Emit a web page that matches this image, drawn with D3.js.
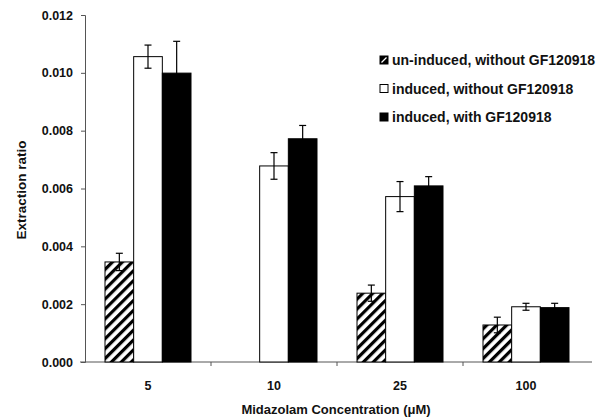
<!DOCTYPE html>
<html>
<head>
<meta charset="utf-8">
<style>
  body { margin: 0; background: white; font-family: "Liberation Sans", Arial, sans-serif; }
  svg { display: block; }
  text { font-weight: bold; fill: #111; }
</style>
<script src="https://cdn.jsdelivr.net/npm/d3@7"></script>
</head>
<body>
<svg id="chart" width="609" height="420"></svg>
<script>

let concentrations = ["5", "10", "25", "100"]
let series = ["un-induced, without GF120918", "induced, without GF120918", "induced, with GF120918"]

// means per concentration, one list per series
let uninducedNo = [0.00346, 0, 0.00238, 0.00128]
let inducedNo = [0.01056, 0.00678, 0.00572, 0.00191]
let inducedWith = [0.00999, 0.00772, 0.00609, 0.00188]

// error bar half-heights (SD)
let uninducedNoErr = [0.0003, 0, 0.00028, 0.00027]
let inducedNoErr = [0.0004, 0.00046, 0.00052, 0.00012]
let inducedWithErr = [0.0011, 0.00046, 0.00032, 0.00015]

let yTicks = [0, 0.002, 0.004, 0.006, 0.008, 0.010, 0.012]

let svg = d3.select("#chart")

let plotLeft = 85, plotRight = 589, plotTop = 15, plotBottom = 362

// hatch pattern for un-induced bars
let defs = svg.append("defs")
defs.append("pattern")
    .attr("id", "hatch")
    .attr("patternUnits", "userSpaceOnUse")
    .attr("width", 7).attr("height", 7)
    .attr("patternTransform", "rotate(45)")
  .call(p => {
    p.append("rect").attr("width", 7).attr("height", 7).attr("fill", "white")
    p.append("rect").attr("x", 0).attr("width", 3.2).attr("height", 7).attr("fill", "black")
  })

let fills = ["url(#hatch)", "white", "black"]

let x0 = d3.scaleBand().domain(concentrations).range([plotLeft, plotRight])
let x1 = d3.scaleBand().domain(series).range([0, 86])
let y = d3.scaleLinear().domain([0, 0.012]).range([plotBottom, plotTop])

let rows = concentrations.map((c, i) => ({
  conc: c,
  vals: [
    {s: series[0], v: uninducedNo[i], e: uninducedNoErr[i]},
    {s: series[1], v: inducedNo[i], e: inducedNoErr[i]},
    {s: series[2], v: inducedWith[i], e: inducedWithErr[i]}
  ]
}))

// y axis
let yAxis = d3.axisLeft(y).tickValues(yTicks).tickFormat(d3.format(".3f")).tickSize(4).tickPadding(8)
let gy = svg.append("g").attr("transform", `translate(${plotLeft},0)`).call(yAxis)
gy.select(".domain").attr("stroke", "#555")
gy.selectAll(".tick line").attr("stroke", "#555")
gy.selectAll("text").style("font-size", "12.5px").style("font-family", "Liberation Sans, Arial, sans-serif")

// x axis (ticks at category boundaries)
let gx = svg.append("g").attr("transform", `translate(0,${plotBottom})`)
gx.append("line").attr("x1", plotLeft - 5).attr("x2", plotRight + 3).attr("stroke", "#555")
gx.selectAll(".bt").data(concentrations.slice(1)).enter().append("line")
    .attr("x1", d => x0(d)).attr("x2", d => x0(d))
    .attr("y1", 0).attr("y2", 4).attr("stroke", "#555")
gx.selectAll(".lab").data(concentrations).enter().append("text")
    .attr("x", d => x0(d) + x0.bandwidth() / 2)
    .attr("y", 28)
    .attr("text-anchor", "middle")
    .style("font-size", "12.5px")
    .text(d => d)

// bars
let groups = svg.selectAll(".grp").data(rows).enter().append("g")
    .attr("transform", d => `translate(${x0(d.conc) + x0.bandwidth() / 2 - 43},0)`)

groups.selectAll("rect").data(d => d.vals).enter().append("rect")
    .attr("x", d => x1(d.s))
    .attr("y", d => y(d.v))
    .attr("width", x1.bandwidth())
    .attr("height", d => y(0) - y(d.v))
    .attr("fill", (d, i) => fills[i])
    .attr("stroke", "black")
    .attr("stroke-width", 1)

// error bars
let eb = groups.selectAll(".err").data(d => d.vals.filter(v => v.v > 0)).enter().append("g")
    .attr("stroke", "black").attr("stroke-width", 1.2)
eb.append("line")
    .attr("x1", d => x1(d.s) + x1.bandwidth() / 2).attr("x2", d => x1(d.s) + x1.bandwidth() / 2)
    .attr("y1", d => y(d.v - d.e)).attr("y2", d => y(d.v + d.e))
eb.append("line")
    .attr("x1", d => x1(d.s) + x1.bandwidth() / 2 - 3.5).attr("x2", d => x1(d.s) + x1.bandwidth() / 2 + 3.5)
    .attr("y1", d => y(d.v + d.e)).attr("y2", d => y(d.v + d.e))
eb.filter(d => d.s !== series[2]).append("line")
    .attr("x1", d => x1(d.s) + x1.bandwidth() / 2 - 3.5).attr("x2", d => x1(d.s) + x1.bandwidth() / 2 + 3.5)
    .attr("y1", d => y(d.v - d.e)).attr("y2", d => y(d.v - d.e))

// axis titles
svg.append("text")
    .attr("transform", "translate(26,190) rotate(-90)")
    .attr("text-anchor", "middle")
    .style("font-size", "13.5px")
    .text("Extraction ratio")

svg.append("text")
    .attr("x", 336).attr("y", 414)
    .attr("text-anchor", "middle")
    .style("font-size", "13px")
    .text("Midazolam Concentration (\u03bcM)")

// legend
let legend = svg.append("g").attr("transform", "translate(380,60)")
let li = legend.selectAll("g").data(series).enter().append("g")
    .attr("transform", (d, i) => `translate(0,${i * 28.5})`)
li.append("rect")
    .attr("x", 0).attr("y", -4).attr("width", 8).attr("height", 8)
    .attr("fill", (d, i) => i === 0 ? "black" : fills[i])
    .attr("stroke", "black")
li.filter((d, i) => i === 0).append("line")
    .attr("x1", 1.5).attr("y1", 2.5).attr("x2", 6.5).attr("y2", -2.5)
    .attr("stroke", "white").attr("stroke-width", 1.3)
li.append("text")
    .attr("x", 12).attr("y", 5)
    .style("font-size", "14px")
    .text(d => d)

</script>
</body>
</html>
